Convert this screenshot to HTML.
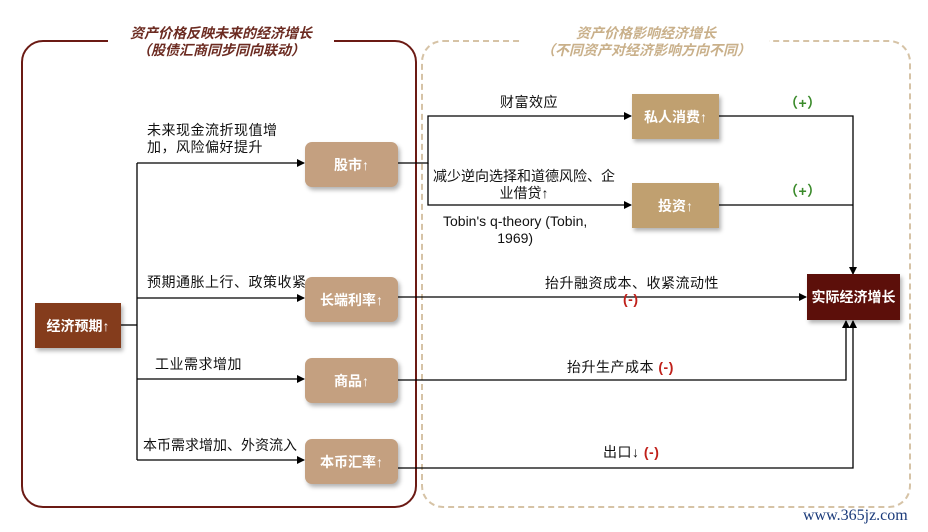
<!DOCTYPE html>
<html><head><meta charset="utf-8"><style>
body{margin:0;background:#fff;width:928px;height:532px;overflow:hidden;position:relative;font-family:"Liberation Sans","Noto Sans CJK SC",sans-serif}
.t{position:absolute;font-size:14px;letter-spacing:0.5px;color:#111;white-space:nowrap;line-height:17px}
.b{position:absolute;color:#fff;font-size:14px;font-weight:bold;display:flex;align-items:center;justify-content:center;box-shadow:2px 3px 4px rgba(0,0,0,.3)}
.ti{position:absolute;font-size:14px;font-weight:bold;font-style:italic;text-align:center;line-height:17px;white-space:nowrap;background:#fff;padding:0 8px}
</style></head><body>
<div style="position:absolute;left:21px;top:40px;width:392px;height:464px;border:2px solid #6b1a14;border-radius:22px"></div>
<div style="position:absolute;left:421px;top:40px;width:486px;height:464px;border:2px dashed #d6c3a6;border-radius:22px"></div>
<div class="ti" style="left:108px;top:25px;width:210px;color:#6b2a20">资产价格反映未来的经济增长<br>（股债汇商同步同向联动）</div>
<div class="ti" style="left:523px;top:25px;width:230px;color:#c9b08a">资产价格影响经济增长<br>（不同资产对经济影响方向不同）</div>
<svg width="928" height="532" style="position:absolute;left:0;top:0">
<defs><marker id="a" markerWidth="8" markerHeight="8" refX="7" refY="4" orient="auto" markerUnits="userSpaceOnUse"><path d="M0,0L8,4L0,8z" fill="#000"/></marker></defs>
<g stroke="#000" stroke-width="1.3" fill="none">
<path d="M121,325H137"/><path d="M137,163V460"/>
<path d="M137,163H304" marker-end="url(#a)"/>
<path d="M137,298H304" marker-end="url(#a)"/>
<path d="M137,379H304" marker-end="url(#a)"/>
<path d="M137,460H304" marker-end="url(#a)"/>
<path d="M398,163H428V116H631" marker-end="url(#a)"/>
<path d="M428,163V205H631" marker-end="url(#a)"/>
<path d="M719,116H853V274" marker-end="url(#a)"/>
<path d="M719,205H853"/>
<path d="M398,297H806" marker-end="url(#a)"/>
<path d="M398,380H846V321" marker-end="url(#a)"/>
<path d="M398,468H853V321" marker-end="url(#a)"/>
</g></svg>
<div class="b" style="left:35px;top:303px;width:86px;height:45px;background:#843c1c">经济预期↑</div>
<div class="b" style="left:305px;top:142px;width:93px;height:45px;background:#c4a080;border-radius:7px">股市↑</div>
<div class="b" style="left:305px;top:277px;width:93px;height:45px;background:#c4a080;border-radius:7px">长端利率↑</div>
<div class="b" style="left:305px;top:358px;width:93px;height:45px;background:#c4a080;border-radius:7px">商品↑</div>
<div class="b" style="left:305px;top:439px;width:93px;height:45px;background:#c4a080;border-radius:7px">本币汇率↑</div>
<div class="b" style="left:632px;top:94px;width:87px;height:45px;background:#c0a070">私人消费↑</div>
<div class="b" style="left:632px;top:183px;width:87px;height:45px;background:#c0a070">投资↑</div>
<div class="b" style="left:807px;top:274px;width:93px;height:46px;background:#5c0f0a">实际经济增长</div>
<div class="t" style="left:147px;top:122px">未来现金流折现值增<br>加，风险偏好提升</div>
<div class="t" style="left:147px;top:274px">预期通胀上行、政策收紧</div>
<div class="t" style="left:155px;top:356px">工业需求增加</div>
<div class="t" style="left:143px;top:437px;letter-spacing:0">本币需求增加、外资流入</div>
<div class="t" style="left:500px;top:94px">财富效应</div>
<div class="t" style="left:433px;top:168px;text-align:center;letter-spacing:0">减少逆向选择和道德风险、企<br>业借贷↑</div>
<div class="t" style="left:443px;top:213px;text-align:center;letter-spacing:0">Tobin's q-theory (Tobin,<br>1969)</div>
<div class="t" style="left:784px;top:95px;color:#3a8a2a;font-weight:bold">（+）</div>
<div class="t" style="left:784px;top:183px;color:#3a8a2a;font-weight:bold">（+）</div>
<div class="t" style="left:545px;top:275px">抬升融资成本、收紧流动性</div>
<div class="t" style="left:623px;top:291px;color:#c0201a;font-weight:bold">(-)</div>
<div class="t" style="left:567px;top:359px">抬升生产成本 <span style="color:#c0201a;font-weight:bold">(-)</span></div>
<div class="t" style="left:603px;top:444px">出口↓ <span style="color:#c0201a;font-weight:bold">(-)</span></div>
<div class="t" style="left:803px;top:507px;font-family:'Liberation Serif',serif;font-size:16px;letter-spacing:0;color:#1a3a7a">www.365jz.com</div>
</body></html>
